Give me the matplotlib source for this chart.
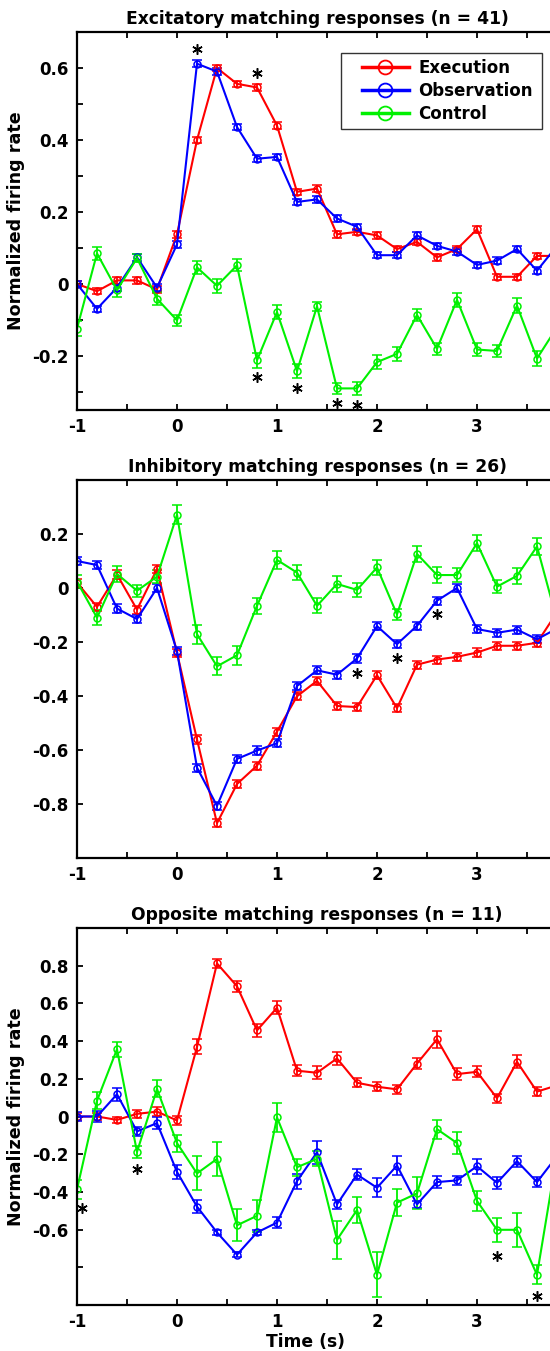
import numpy as np
import matplotlib
matplotlib.use("Agg")
import matplotlib.pyplot as plt
from matplotlib.lines import Line2D
from matplotlib.patches import Rectangle

plt.rcParams['font.family'] = ['DejaVu Sans']
plt.rcParams['font.weight'] = 'bold'

# time bins (s)
t = [-1.0, -0.8, -0.6, -0.4, -0.2, 0.0, 0.2, 0.4, 0.6, 0.8, 1.0, 1.2, 1.4,
     1.6, 1.8, 2.0, 2.2, 2.4, 2.6, 2.8, 3.0, 3.2, 3.4, 3.6, 3.8]

# Excitatory matching responses (n = 41)
exc_exe = [0.0, -0.02, 0.01, 0.01, -0.015, 0.138, 0.40, 0.60, 0.556, 0.546, 0.44, 0.256, 0.265,
           0.138, 0.145, 0.135, 0.097, 0.117, 0.074, 0.097, 0.152, 0.02, 0.02, 0.078, 0.078]
exc_obs = [0.0, -0.069, -0.01, 0.074, -0.01, 0.11, 0.612, 0.59, 0.436, 0.348, 0.353, 0.228, 0.235,
           0.182, 0.159, 0.08, 0.08, 0.135, 0.106, 0.09, 0.053, 0.065, 0.097, 0.037, 0.106]
exc_ctl = [-0.124, 0.085, -0.017, 0.072, -0.041, -0.101, 0.046, -0.005, 0.052, -0.212, -0.078, -0.242, -0.062,
           -0.29, -0.29, -0.217, -0.194, -0.086, -0.18, -0.044, -0.182, -0.186, -0.06, -0.207, -0.12]
exc_exe_err = [0.009] * 25
exc_obs_err = [0.009] * 25
exc_ctl_err = [0.02, 0.018, 0.018, 0.012, 0.018, 0.015, 0.017, 0.02, 0.017, 0.02, 0.02, 0.02, 0.013,
               0.015, 0.017, 0.02, 0.02, 0.017, 0.017, 0.02, 0.017, 0.017, 0.02, 0.02, 0.02]
exc_sig_x = [0.2, 0.8, 0.8, 1.2, 1.6, 1.8]
exc_sig_y = [0.652, 0.585, -0.258, -0.29, -0.331, -0.335]

# Inhibitory matching responses (n = 26)
inh_exe = [0.02, -0.07, 0.05, -0.08, 0.07, -0.24, -0.561, -0.871, -0.726, -0.658, -0.532, -0.401, -0.344,
           -0.437, -0.441, -0.323, -0.445, -0.284, -0.265, -0.255, -0.239, -0.214, -0.214, -0.203, -0.09]
inh_obs = [0.10, 0.085, -0.076, -0.115, 0.0, -0.234, -0.665, -0.807, -0.633, -0.602, -0.575, -0.363, -0.305,
           -0.321, -0.261, -0.141, -0.208, -0.14, -0.047, 0.0, -0.152, -0.166, -0.154, -0.19, -0.15]
inh_ctl = [0.024, -0.11, 0.052, -0.01, 0.042, 0.271, -0.171, -0.29, -0.249, -0.066, 0.104, 0.057, -0.066,
           0.015, -0.007, 0.076, -0.098, 0.126, 0.048, 0.048, 0.166, 0.005, 0.045, 0.154, -0.12]
inh_exe_err = [0.015] * 25
inh_obs_err = [0.015] * 25
inh_ctl_err = [0.025, 0.028, 0.028, 0.022, 0.025, 0.035, 0.035, 0.033, 0.035, 0.03, 0.033, 0.028, 0.028,
               0.028, 0.025, 0.028, 0.022, 0.028, 0.028, 0.025, 0.03, 0.025, 0.03, 0.03, 0.03]
inh_sig_x = [1.8, 2.2, 2.6]
inh_sig_y = [-0.315, -0.261, -0.097]

# Opposite matching responses (n = 11)
opp_exe = [0.0, 0.0, -0.018, 0.014, 0.026, -0.021, 0.369, 0.812, 0.691, 0.457, 0.577, 0.243, 0.232,
           0.308, 0.179, 0.158, 0.144, 0.281, 0.41, 0.225, 0.237, 0.097, 0.29, 0.132, 0.165]
opp_obs = [0.0, 0.0, 0.118, -0.079, -0.035, -0.294, -0.478, -0.615, -0.733, -0.615, -0.563, -0.343, -0.19,
           -0.466, -0.308, -0.378, -0.26, -0.466, -0.348, -0.339, -0.264, -0.352, -0.237, -0.348, -0.21]
opp_ctl = [-0.387, 0.084, 0.357, -0.188, 0.146, -0.141, -0.302, -0.225, -0.577, -0.527, -0.005, -0.269, -0.225,
           -0.654, -0.496, -0.84, -0.457, -0.408, -0.067, -0.141, -0.448, -0.601, -0.601, -0.84, -0.2]
opp_exe_err = [0.02, 0.02, 0.015, 0.02, 0.025, 0.025, 0.04, 0.025, 0.03, 0.035, 0.035, 0.03, 0.035,
               0.035, 0.025, 0.025, 0.025, 0.03, 0.045, 0.03, 0.03, 0.025, 0.035, 0.025, 0.03]
opp_obs_err = [0.025, 0.03, 0.035, 0.025, 0.03, 0.035, 0.035, 0.015, 0.015, 0.015, 0.03, 0.04, 0.06,
               0.025, 0.03, 0.05, 0.05, 0.02, 0.03, 0.025, 0.04, 0.03, 0.03, 0.025, 0.03]
opp_ctl_err = [0.05, 0.045, 0.04, 0.03, 0.045, 0.045, 0.09, 0.09, 0.085, 0.085, 0.075, 0.045, 0.04,
               0.1, 0.07, 0.12, 0.07, 0.085, 0.05, 0.06, 0.055, 0.065, 0.09, 0.05, 0.06]
opp_sig_x = [-0.95, -0.4, 3.2, 3.6]
opp_sig_y = [-0.483, -0.281, -0.738, -0.95]

titles = ['Excitatory matching responses (n = 41)',
          'Inhibitory matching responses (n = 26)',
          'Opposite matching responses (n = 11)']
labels = ['Execution', 'Observation', 'Control']
colors = ['#ff0000', '#0000ff', '#00f000']

fig = plt.figure(figsize=(5.5, 13.51), dpi=100)
W, H = 550.0, 1351.0


def make_ax(top, bottom):
    return fig.add_axes([77 / W, 1 - bottom / H, 480 / W, (bottom - top) / H])


def draw(ax, series, errs, sig_x, sig_y):
    for y, e, c in zip(series, errs, colors):
        ax.errorbar(t, y, yerr=e, color=c, lw=1.5, marker='o', ms=5, mfc='none',
                    mec=c, mew=1.1, capsize=3.5, capthick=1.3, elinewidth=1.3)
    ax.plot(sig_x, sig_y, ls='none', marker=(6, 2, 0), ms=7.5, mew=1.1, color='black',
            clip_on=False)


def style(ax, ylim, yt, ytl):
    ax.set_xlim(-1, 3.8)
    ax.set_ylim(*ylim)
    xt = np.arange(-1, 4.0, 0.5)
    ax.set_xticks(xt)
    ax.set_xticklabels([('%d' % v) if v == int(v) else '' for v in xt])
    ax.set_yticks(yt)
    ax.set_yticklabels(ytl)
    ax.tick_params(direction='in', length=4.5, width=1.3, top=True, right=True,
                   labelsize=12, pad=6)
    for lab in ax.get_xticklabels() + ax.get_yticklabels():
        lab.set_fontweight('bold')
    for s in ax.spines.values():
        s.set_linewidth(1.6)


# panel 1
ax1 = make_ax(32, 410)
draw(ax1, [exc_exe, exc_obs, exc_ctl], [exc_exe_err, exc_obs_err, exc_ctl_err], exc_sig_x, exc_sig_y)
yt1 = np.round(np.arange(-0.3, 0.61, 0.1), 1)
style(ax1, (-0.35, 0.7), yt1,
      [('0' if abs(v) < 1e-9 else '%.1f' % v) if int(round(v * 10)) % 2 == 0 else '' for v in yt1])
ax1.set_title(titles[0], fontsize=12.3, fontweight='bold', pad=6)
ax1.set_ylabel('Normalized firing rate', fontsize=12.6, fontweight='bold')
ax1.yaxis.set_label_coords(-0.108, 0.5)

# legend: frame drawn separately to match the wide left margin
box_l, box_r = (341 - 77) / 480, (542 - 77) / 480
box_t, box_b = 1 - (53 - 32) / 378, 1 - (129 - 32) / 378
ax1.add_patch(Rectangle((box_l, box_b), box_r - box_l, box_t - box_b, transform=ax1.transAxes,
                        facecolor='white', edgecolor='#333333', lw=1.0, zorder=4))
handles = [Line2D([], [], color=c, lw=2.5, marker='o', ms=10, mfc='none', mec=c, mew=1.3)
           for c in colors]
leg = ax1.legend(handles, labels, loc='upper left', bbox_to_anchor=((356 - 77) / 480, box_t),
                 borderaxespad=0, frameon=False,
                 prop={'size': 12, 'weight': 'bold'}, handlelength=2.8, labelspacing=0.3,
                 handletextpad=0.6, borderpad=0.35)
leg.set_zorder(5)

# panel 2
ax2 = make_ax(480, 858)
draw(ax2, [inh_exe, inh_obs, inh_ctl], [inh_exe_err, inh_obs_err, inh_ctl_err], inh_sig_x, inh_sig_y)
yt2 = np.round(np.arange(-0.8, 0.21, 0.2), 1)
style(ax2, (-1.0, 0.4), yt2, [('0' if abs(v) < 1e-9 else '%.1f' % v) for v in yt2])
ax2.set_title(titles[1], fontsize=12.3, fontweight='bold', pad=6)

# panel 3
ax3 = make_ax(928, 1305)
draw(ax3, [opp_exe, opp_obs, opp_ctl], [opp_exe_err, opp_obs_err, opp_ctl_err], opp_sig_x, opp_sig_y)
yt3 = np.round(np.arange(-0.8, 0.81, 0.2), 1)
style(ax3, (-1.0, 1.0), yt3,
      [('0' if abs(v) < 1e-9 else ('' if v < -0.7 else '%.1f' % v)) for v in yt3])
ax3.set_title(titles[2], fontsize=12.3, fontweight='bold', pad=6)
ax3.set_ylabel('Normalized firing rate', fontsize=12.6, fontweight='bold')
ax3.yaxis.set_label_coords(-0.108, 0.5)
ax3.set_xlabel('Time (s)', fontsize=12.3, fontweight='bold', labelpad=0)
ax3.xaxis.set_label_coords(0.477, -0.075)

fig.savefig('out.png', dpi=100)
